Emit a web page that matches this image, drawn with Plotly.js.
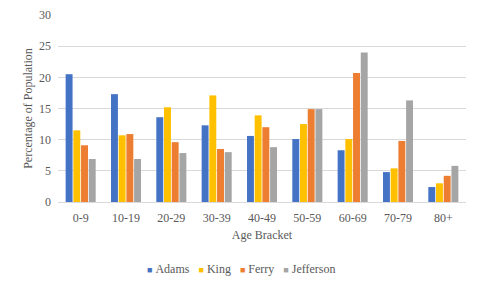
<!DOCTYPE html>
<html>
<head>
<meta charset="utf-8">
<script src="https://cdn.plot.ly/plotly-3.0.1.min.js"></script>
<style>html,body{margin:0;padding:0;background:#fff;}#chart{width:480px;height:288px;}</style>
</head>
<body>
<div id="chart"></div>
<script>
const categories = ["0-9","10-19","20-29","30-39","40-49","50-59","60-69","70-79","80+"];
const adams = [20.5, 17.3, 13.6, 12.3, 10.6, 10.1, 8.3, 4.8, 2.4];
const king = [11.5, 10.7, 15.2, 17.1, 13.9, 12.5, 10.1, 5.4, 3.0];
const ferry = [9.1, 10.9, 9.6, 8.5, 12.0, 14.9, 20.7, 9.8, 4.2];
const jefferson = [6.9, 6.9, 7.85, 8.0, 8.8, 14.9, 24.0, 16.3, 5.8];
const seriesNames = ["Adams","King","Ferry","Jefferson"];
const seriesValues = [adams, king, ferry, jefferson];
const colors = ["#4472c4","#ffc000","#ed7d31","#a5a5a5"];

const traces = seriesNames.map((n,i)=>({
  type:'bar', name:n, x:categories, y:seriesValues[i],
  marker:{color:colors[i]}, hoverinfo:'none', showlegend:false
}));

const fam = '"Liberation Serif", "Times New Roman", serif';
const font = {family:fam, size:12, color:'#595959'};
const nb = '\u00a0';
const legendText = seriesNames.map((n,i)=>'<span style="color:'+colors[i]+';font-size:9px">\u25A0</span>'+nb+n).join(nb+nb+nb);
const layout = {
  width:480, height:288,
  margin:{l:58, r:14, t:15, b:86, pad:0},
  paper_bgcolor:'#fff', plot_bgcolor:'#fff',
  font:font,
  barmode:'group', bargap:0.32, bargroupgap:0.1,
  showlegend:false,
  annotations:[{xref:'paper', yref:'paper', x:0.449, y:-0.358, xanchor:'center', yanchor:'middle',
    showarrow:false, text:legendText, font:font}],
  xaxis:{
    type:'category', showgrid:false, showline:true, linecolor:'#d9d9d9', linewidth:1,
    ticks:'', tickfont:font, ticklabelstandoff:5,
    title:{text:'Age Bracket', font:font, standoff:6}
  },
  yaxis:{
    range:[0,30], dtick:5, showgrid:true, gridcolor:'#d9d9d9', gridwidth:1,
    zeroline:false, showline:false, ticks:'', tickfont:font, ticklabelstandoff:6,
    title:{text:'Percentage of Population', font:font, standoff:3}
  }
};
Plotly.newPlot('chart', traces, layout, {staticPlot:true, displayModeBar:false});
</script>
</body>
</html>
